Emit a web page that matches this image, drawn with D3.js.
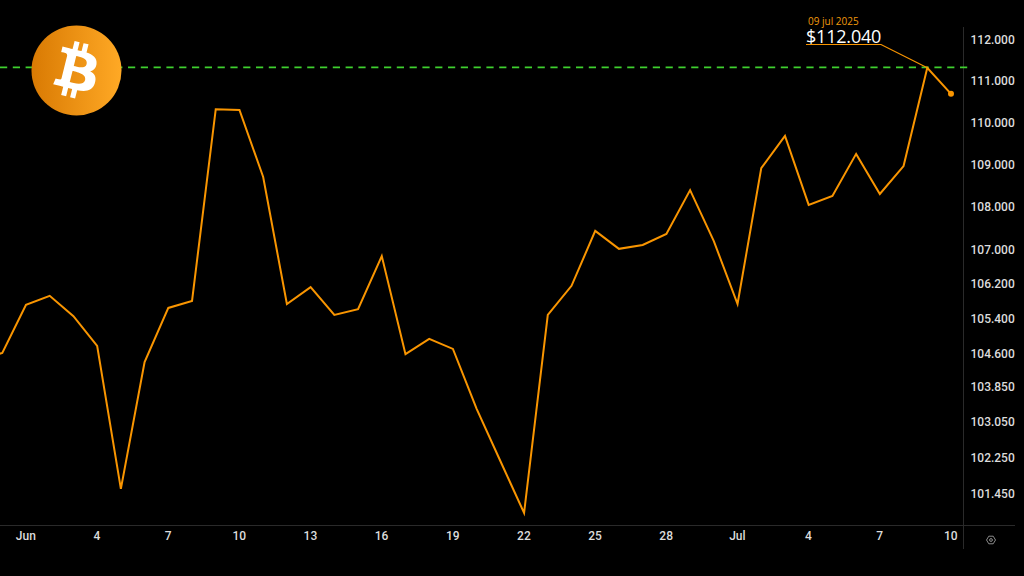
<!DOCTYPE html>
<html><head><meta charset="utf-8">
<script src="https://cdn.jsdelivr.net/npm/d3@7"></script>
<style>
html,body{margin:0;padding:0;background:#000;overflow:hidden}
svg{display:block}
text{font-family:"Open Sans","Noto Sans",sans-serif}
.tick text{font-family:Roboto,sans-serif;font-size:12px;font-weight:500;fill:#dcdcdc}
</style></head><body>
<svg id="c" width="1024" height="576"></svg>
<script>
// Daily price, 30 May – 10 Jul 2025
const startDate = "2025-05-30";
const prices = [104400,104600,105700,105910,105440,104760,101540,104390,105630,105790,110310,110290,108690,105720,106110,105470,105600,106830,104570,104920,104690,103330,102160,101010,105470,106140,107420,107000,107090,107350,108380,107180,105720,108900,109670,108030,108240,109240,108290,108950,111310,110680];
const yTicks = [112000,111000,110000,109000,108000,107000,106200,105400,104600,103850,103050,102250,101450];
const xTickDates = ["2025-06-01","2025-06-04","2025-06-07","2025-06-10","2025-06-13","2025-06-16","2025-06-19","2025-06-22","2025-06-25","2025-06-28","2025-07-01","2025-07-04","2025-07-07","2025-07-10"];
const xTickLabels = ["Jun","4","7","10","13","16","19","22","25","28","Jul","4","7","10"];
const refLevel = 111320;
const calloutDate = "2025-07-09";
const calloutPrice = "$112.040";
const calloutLabel = "09 jul 2025";

const parse = d3.utcParse("%Y-%m-%d");
const DAY = 864e5;
const dates = prices.map((_, i) => new Date(parse(startDate).getTime() + i * DAY));
const series = prices.map((v, i) => ({date: dates[i], value: v}));

const svg = d3.select("#c");
const x = d3.scaleUtc().domain([parse("2025-06-01"), parse("2025-07-10")]).range([26, 951]);
const y = d3.scaleLog().domain([101450, 112000]).range([493, 39.5]);
const fmt = d3.formatLocale({decimal:",",thousands:".",grouping:[3],currency:["$",""]}).format(",d");

const defs = svg.append("defs");
const grad = defs.append("linearGradient").attr("id","btc").attr("x1",0).attr("x2",1).attr("y1",0).attr("y2",0);
grad.append("stop").attr("offset","0%").attr("stop-color","#d97a03");
grad.append("stop").attr("offset","100%").attr("stop-color","#ffa925");
defs.append("clipPath").attr("id","plot").append("rect").attr("x",0).attr("y",0).attr("width",963).attr("height",525);

// frame lines
svg.append("line").attr("x1",0).attr("x2",1015).attr("y1",525.5).attr("y2",525.5).attr("stroke","#2a2a2a");
svg.append("line").attr("x1",963.5).attr("x2",963.5).attr("y1",27).attr("y2",549).attr("stroke","#2a2a2a");

// reference level
const refY = y(refLevel);
svg.append("line").attr("x1",0).attr("x2",970).attr("y1",refY).attr("y2",refY)
  .attr("stroke","#3fd02f").attr("stroke-width",1.9).attr("stroke-dasharray","7.2 5.6");

// logo
const logo = svg.append("g").attr("transform","translate(76.5,70.5)");
logo.append("circle").attr("r",45).attr("fill","url(#btc)");
logo.append("path").attr("transform","scale(1.42) translate(-32,-32)").attr("fill","#fff")
 .attr("d","M46.1 27.441c.636-4.258-2.606-6.547-7.039-8.074l1.438-5.768-3.512-.875-1.4 5.616c-.922-.23-1.87-.447-2.812-.662l1.41-5.653-3.509-.875-1.439 5.766c-.764-.174-1.514-.346-2.242-.527l.004-.018-4.842-1.209-.934 3.75s2.605.597 2.55.634c1.422.355 1.68 1.296 1.636 2.042l-1.638 6.571c.098.025.225.061.365.117l-.37-.092-2.297 9.205c-.174.432-.615 1.08-1.609.834.035.051-2.552-.637-2.552-.637l-1.743 4.02 4.57 1.139c.85.213 1.683.436 2.502.646l-1.453 5.835 3.507.875 1.44-5.772c.957.26 1.887.5 2.797.726L27.504 50.8l3.511.875 1.453-5.823c5.987 1.133 10.49.676 12.383-4.738 1.527-4.36-.075-6.875-3.225-8.516 2.294-.531 4.022-2.04 4.483-5.157zM38.08 38.69c-1.086 4.36-8.426 2.004-10.807 1.412l1.928-7.729c2.38.594 10.011 1.77 8.88 6.317zm1.085-11.312c-.99 3.966-7.1 1.951-9.083 1.457l1.748-7.01c1.983.494 8.367 1.416 7.335 5.553z");

// price line
const line = d3.line().x(d => x(d.date)).y(d => y(d.value));
svg.append("path").datum(series).attr("d",line).attr("fill","none").attr("stroke","#f99500")
  .attr("stroke-width",2).attr("stroke-linejoin","miter").attr("clip-path","url(#plot)");
const last = series[series.length-1];
svg.append("circle").attr("cx",x(last.date)).attr("cy",y(last.value)).attr("r",3).attr("fill","#f99500");

// axes
const yAxis = d3.axisRight(y).tickValues(yTicks).tickFormat(fmt).tickSize(0).tickPadding(0);
const ya = svg.append("g").attr("transform","translate(970.5,0.5)").call(yAxis);
ya.select(".domain").remove();
const xAxis = d3.axisBottom(x).tickValues(xTickDates.map(parse)).tickFormat((d,i) => xTickLabels[i]).tickSize(0).tickPadding(0);
const xa = svg.append("g").attr("transform","translate(-0.7,531)").call(xAxis);
xa.select(".domain").remove();

// callout
const cp = series.find(d => +d.date === +parse(calloutDate));
svg.append("path").attr("fill","none").attr("stroke","#f99500").attr("stroke-width",1.2)
  .attr("d", d3.line()([[806,44.5],[881,44.5],[x(cp.date),y(cp.value)]]));
svg.append("text").attr("x",808).attr("y",24.5).attr("font-size",10).attr("fill","#f09a0c").text(calloutLabel);
svg.append("text").attr("x",806).attr("y",42.5).attr("font-size",18).attr("letter-spacing",-0.2).attr("fill","#fff").text(calloutPrice);

// settings glyph
const gear = svg.append("g").attr("transform","translate(991,540)").attr("fill","none").attr("stroke","#9a9a9a").attr("stroke-width",.9);
gear.append("path").attr("d",d3.line()([[-4.5,0],[-2.2,-3.8],[2.2,-3.8],[4.5,0],[2.2,3.8],[-2.2,3.8],[-4.5,0]]));
gear.append("circle").attr("r",1.4);
</script>
</body></html>
